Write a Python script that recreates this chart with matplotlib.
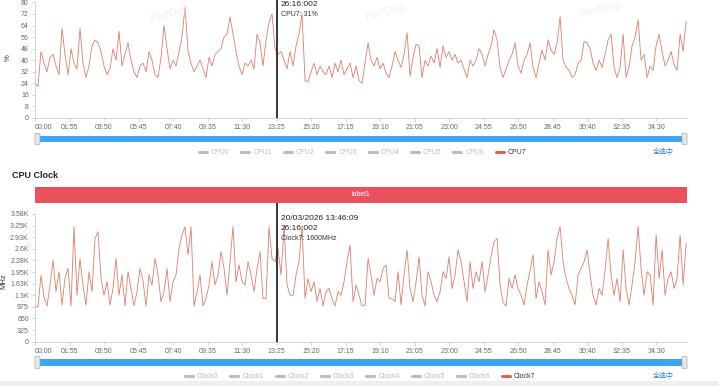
import numpy as np
import matplotlib
matplotlib.use("Agg")
import matplotlib.pyplot as plt
from matplotlib.patches import Rectangle, FancyBboxPatch
from matplotlib.lines import Line2D

plt.rcParams['font.family'] = ['Liberation Sans', 'Noto Sans CJK SC', 'DejaVu Sans']

# ---------------- data ----------------
step_s = 10  # seconds between samples
cpu7 = [24, 22, 46, 38, 32, 42, 44, 36, 30, 62, 44, 30, 48, 38, 34, 62, 38, 28, 36, 50,
        54, 52, 46, 36, 30, 34, 48, 40, 60, 36, 44, 52, 40, 32, 28, 36, 38, 32, 46, 40,
        30, 28, 42, 64, 48, 34, 40, 36, 46, 56, 77, 46, 38, 32, 36, 40, 34, 28, 42, 36,
        44, 46, 48, 56, 58, 70, 58, 46, 36, 30, 38, 36, 40, 34, 58, 52, 36, 54, 66, 72,
        48, 44, 46, 40, 34, 46, 36, 50, 58, 72, 26, 25, 32, 38, 30, 36, 32, 30, 36, 28,
        38, 32, 40, 30, 34, 38, 28, 36, 26, 24, 38, 52, 40, 36, 42, 34, 38, 31, 28, 36,
        46, 40, 35, 44, 59, 29, 42, 51, 50, 28, 40, 36, 43, 38, 48, 35, 50, 42, 46, 40,
        44, 38, 40, 34, 28, 40, 36, 40, 48, 44, 36, 44, 50, 61, 54, 35, 28, 34, 40, 44,
        52, 36, 31, 40, 44, 52, 35, 28, 38, 47, 40, 54, 47, 44, 52, 70, 40, 35, 33, 28,
        30, 38, 40, 53, 52, 48, 38, 33, 40, 35, 44, 54, 58, 35, 28, 35, 58, 28, 36, 50,
        56, 68, 40, 44, 28, 36, 33, 50, 58, 46, 36, 40, 46, 37, 33, 58, 46, 67]
clock7 = [975, 975, 1860, 1250, 1000, 1580, 2280, 1400, 1960, 1020, 1780, 2050, 1000, 3220, 1300,
          2330, 1580, 1020, 1960, 1400, 2890, 3080, 1780, 1300, 1680, 1030, 1490, 2330, 1300, 1870,
          1000, 1960, 1490, 1000, 1400, 2050, 1700, 1000, 1870, 1580, 2330, 1870, 1120, 1400, 2050,
          1120, 1680, 1870, 2610, 2990, 3220, 2430, 3220, 1000, 1400, 1870, 1000, 1210, 1580, 2240,
          1590, 1870, 2520, 2050, 1300, 2240, 3220, 1680, 2150, 1680, 1590, 2240, 1870, 1400, 2050,
          2520, 1210, 1210, 3220, 2330, 2240, 2610, 1870, 3220, 1590, 1300, 1300, 1870, 2250, 3220,
          1210, 1770, 1400, 1680, 1120, 1490, 1000, 1400, 1490, 1210, 1000, 1400, 1300, 1680, 2250,
          2700, 1120, 1590, 1300, 1000, 1030, 2330, 1870, 1300, 1770, 1680, 2050, 2150, 1200, 1210,
          1120, 1960, 1030, 1870, 2570, 1490, 1120, 1680, 2380, 1300, 1000, 1960, 1680, 1300, 1120,
          1400, 1960, 1770, 2380, 1490, 1870, 2570, 2240, 1680, 1120, 2240, 1490, 1960, 1680, 2240,
          1400, 1870, 2400, 2800, 2890, 1600, 1100, 1000, 1770, 1490, 1870, 1490, 1300, 1030, 1590,
          2000, 2430, 1210, 1680, 1400, 1030, 2570, 1870, 2240, 2890, 3220, 2240, 1770, 1490, 1300,
          1030, 1870, 2050, 2240, 2570, 1870, 1300, 1030, 1490, 1300, 2000, 2890, 1870, 1300, 1770,
          1120, 2570, 1490, 1030, 1600, 2240, 3220, 2050, 1300, 1960, 1870, 1030, 3000, 1770, 2570,
          1300, 1770, 1960, 1490, 1770, 2990, 1590, 2750]
x_tick_labels = ["00:00", "01:55", "03:50", "05:45", "07:40", "09:35", "11:30", "13:25", "15:20",
                 "17:15", "19:10", "21:05", "23:00", "24:55", "26:50", "28:45", "30:40", "32:35", "34:30"]
cpu_ticks = [0, 8, 16, 24, 32, 40, 48, 56, 64, 72, 80]
clock_ticks = [0, 325, 650, 975, 1300, 1625, 1950, 2275, 2600, 2925, 3250, 3575]
clock_tick_labels = ["0", "325", "650", "975", "1.3K", "1.63K", "1.95K", "2.28K", "2.6K", "2.93K", "3.25K", "3.58K"]
cpu_names = ["CPU0", "CPU1", "CPU2", "CPU3", "CPU4", "CPU5", "CPU6", "CPU7"]
clock_names = ["Clock0", "Clock1", "Clock2", "Clock3", "Clock4", "Clock5", "Clock6", "Clock7"]
cursor_label = "13:25"
x_max = 2173

# ---------------- figure ----------------
W, H = 719, 386
fig = plt.figure(figsize=(W / 100, H / 100), dpi=100)
def fx(px): return px / W
def fy(py): return 1 - py / H

LINE_C = '#d9664f'
TICK_C = '#666666'
AX_C = '#cccccc'

def tick_seconds(lbl):
    m, s = lbl.split(":")
    return int(m) * 60 + int(s)

xt = [tick_seconds(t) for t in x_tick_labels]
cursor_x = tick_seconds(cursor_label)

def style_axes(ax):
    for s in ['top', 'right']:
        ax.spines[s].set_visible(False)
    ax.spines['left'].set_color(AX_C)
    ax.spines['bottom'].set_color(AX_C)
    ax.spines['left'].set_linewidth(0.6)
    ax.spines['bottom'].set_linewidth(0.6)
    ax.tick_params(axis='both', colors=AX_C, labelcolor=TICK_C, labelsize=5, length=2.5, width=0.6, pad=2)
    ax.set_xlim(0, x_max)
    ax.set_xticks(xt)
    ax.set_xticklabels(x_tick_labels)
    ax.get_xticklabels()[0].set_horizontalalignment('left')

# top
ax1 = fig.add_axes([fx(35), fy(118), 652 / W, 115.6 / H])
t1 = np.arange(len(cpu7)) * step_s
ax1.plot(t1, cpu7, color=LINE_C, lw=0.6, alpha=0.85)
ax1.set_ylim(0, 80)
ax1.set_yticks(cpu_ticks)
ax1.set_yticklabels([str(v) for v in cpu_ticks])
style_axes(ax1)
ax1.set_ylabel("%", fontsize=5.5, color='#333333')
ax1.yaxis.set_label_coords((12 - 35) / 652, 0.52)
ax1.axvline(cursor_x, ymin=0, ymax=1.05, color='black', lw=1.1, clip_on=False)

# bottom
ax2 = fig.add_axes([fx(35), fy(341.7), 652 / W, 127.7 / H])
t2 = np.arange(len(clock7)) * step_s
ax2.plot(t2, clock7, color=LINE_C, lw=0.6, alpha=0.85)
ax2.set_ylim(0, 3575)
ax2.set_yticks(clock_ticks)
ax2.set_yticklabels(clock_tick_labels)
style_axes(ax2)
ax2.set_ylabel("MHz", fontsize=5.5, color='#333333')
ax2.yaxis.set_label_coords((7 - 35) / 652, 0.47)
ax2.axvline(cursor_x, ymin=0, ymax=(341.7 - 203) / 127.7, color='black', lw=1.1, clip_on=False)

# tooltips
fig.text(fx(281), fy(5), "26:16:002", fontsize=6, color='#222222', va='center', ha='left')
fig.text(fx(281), fy(14), "CPU7: 31%", fontsize=5, color='#333333', va='center', ha='left')
fig.text(fx(281), fy(218), "20/03/2026 13:46:09", fontsize=6, color='#222222', va='center', ha='left')
fig.text(fx(281), fy(229), "26:16:002", fontsize=6, color='#222222', va='center', ha='left')
fig.text(fx(281), fy(238), "Clock7: 1600MHz", fontsize=5, color='#333333', va='center', ha='left')

# watermarks
for (wx, wy) in [(170, 14), (385, 12), (600, 10), (170, 200), (385, 198), (597, 198)]:
    fig.text(fx(wx), fy(wy), "PerfDog", fontsize=8, color='#f1f1f1', rotation=15,
             ha='center', va='center', zorder=0)

# sliders
def slider(y0, y1):
    fig.patches.append(Rectangle((fx(37), fy(y1)), fx(685) - fx(37), (y1 - y0) / H,
                                 transform=fig.transFigure, facecolor='#3ea6ee', edgecolor='none'))
    for hx in (35, 682):
        fig.patches.append(FancyBboxPatch((fx(hx), fy(y1 + 2.5)), 5 / W, (y1 - y0 + 5) / H,
                                          boxstyle="round,pad=0,rounding_size=0.002",
                                          transform=fig.transFigure, facecolor='#e8e8e8',
                                          edgecolor='#aaaaaa', linewidth=0.5))
slider(136, 142)
slider(359, 366)

# legends
def legend(names, x0, dx, y):
    for i, n in enumerate(names):
        sel = (i == len(names) - 1)
        xx = x0 + i * dx
        fig.lines.append(Line2D([fx(xx), fx(xx + 8)], [fy(y), fy(y)], transform=fig.transFigure,
                                color=LINE_C if sel else '#bbbbbb', lw=2.2, solid_capstyle='round'))
        fig.text(fx(xx + 12), fy(y), n, fontsize=5, color='#333333' if sel else '#bbbbbb',
                 va='center', ha='left')
    fig.text(fx(653), fy(y), "全选中", fontsize=5, color='#3a7fd5', va='center', ha='left')

legend(cpu_names, 199, 42.4, 152)
legend(clock_names, 185, 45.3, 376)

# CPU Clock title and label bar
fig.text(fx(12), fy(175), "CPU Clock", fontsize=6.5, fontweight='bold', color='#222222',
         va='center', ha='left')
fig.patches.append(Rectangle((fx(35), fy(203)), 652 / W, 16 / H, transform=fig.transFigure,
                             facecolor='#ea515c', edgecolor='none'))
fig.text(fx(361), fy(195), "label1", fontsize=5, color='white', va='center', ha='center')

# bottom gray strip
fig.patches.append(Rectangle((0, 0), 1, 5 / H, transform=fig.transFigure,
                             facecolor='#efefef', edgecolor='none'))

fig.savefig("out.png", dpi=100)
